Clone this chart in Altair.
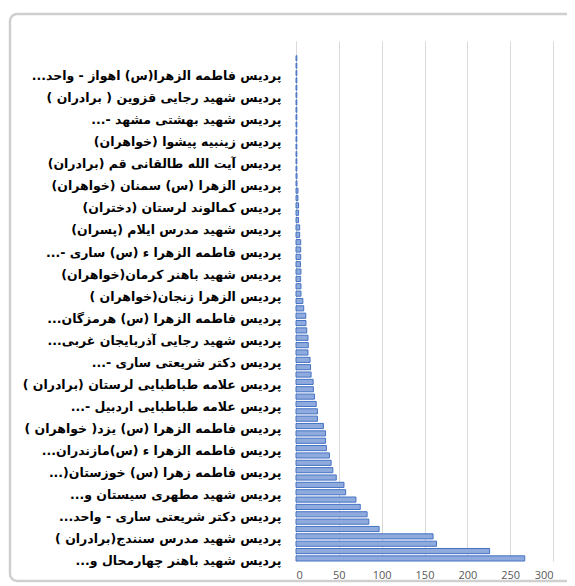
import json
import altair as alt
import pandas as pd

# values from bottom bar (index 0) to top bar (index 68)
values = [267, 226, 164, 160, 97, 85, 83, 75, 70, 58,
          56, 47, 43, 41, 39, 35.5, 34.5, 34.5, 32, 25,
          25, 23.6, 21.5, 20.3, 20, 17.6, 17, 16.4, 14, 14.3,
          14, 12.5, 11.6, 11.4, 9, 8, 5.8, 5.8, 5.4, 5.8,
          5.2, 5.5, 5.5, 5.5, 4.3, 4.3, 3, 3, 3, 2.3,
          2.3, 1.2, 1.2, 1, 1, 1, 1, 1, 1, 1,
          1, 1, 1, 1, 1, 1, 1, 1, 1]

# category labels shown on the axis (every third category, from the bottom)
label_idx = list(range(0, 67, 3))
label_text = [
    "پردیس شهید باهنر چهارمحال و...",
    "پردیس شهید مدرس سنندج(برادران )",
    "پردیس دکتر شریعتی ساری - واحد...",
    "پردیس شهید مطهری سیستان و...",
    "پردیس فاطمه زهرا (س) خوزستان(...",
    "پردیس فاطمه الزهرا ء (س)مازندران...",
    "پردیس فاطمه الزهرا (س) یزد( خواهران )",
    "پردیس علامه طباطبایی اردبیل -...",
    "پردیس علامه طباطبایی لرستان (برادران )",
    "پردیس دکتر شریعتی ساری -...",
    "پردیس شهید رجایی آذربایجان غربی...",
    "پردیس فاطمه الزهرا (س) هرمزگان...",
    "پردیس الزهرا زنجان(خواهران )",
    "پردیس شهید باهنر کرمان(خواهران)",
    "پردیس فاطمه الزهرا ء (س) ساری -...",
    "پردیس شهید مدرس ایلام (پسران)",
    "پردیس کمالوند لرستان (دختران)",
    "پردیس الزهرا (س) سمنان (خواهران)",
    "پردیس آیت الله طالقانی قم (برادران)",
    "پردیس زینبیه پیشوا (خواهران)",
    "پردیس شهید بهشتی مشهد -...",
    "پردیس شهید رجایی قزوین ( برادران )",
    "پردیس فاطمه الزهرا(س) اهواز - واحد...",
]
n_slots = 71  # two empty category slots at the top
x_ticks = [0, 50, 100, 150, 200, 250, 300]

names = [""] * n_slots
for i, t in zip(label_idx, label_text):
    names[i] = "\u200f" + t + "\u200f"

df = pd.DataFrame({"idx": list(range(len(values))), "value": values})

label_expr = json.dumps(names, ensure_ascii=False) + "[datum.value]"

bars = alt.Chart(df).mark_bar(
    fill="#8FAADC", stroke="#4472C4", strokeWidth=1
).encode(
    x=alt.X("value:Q",
            scale=alt.Scale(domain=[0, 300], nice=False),
            axis=alt.Axis(values=x_ticks, title=None, domain=False, ticks=False,
                          grid=True, gridColor="#D9D9D9", gridWidth=1,
                          labelColor="#595959", labelFont="Open Sans",
                          labelFontSize=11, labelPadding=8)),
    y=alt.Y("idx:O",
            scale=alt.Scale(domain=list(range(n_slots - 1, -1, -1)),
                            paddingInner=0.3, paddingOuter=0),
            axis=alt.Axis(values=label_idx, labelExpr=label_expr, title=None,
                          ticks=False, domain=True, domainColor="#D9D9D9",
                          labelFont="DejaVu Sans", labelFontWeight="bold",
                          labelFontSize=12.5, labelColor="#000000",
                          labelPadding=15, labelOffset=3, labelLimit=400)),
)

# decorative chart-object frame (Excel style)
frame = alt.Chart(pd.DataFrame({"f": [0]})).mark_rect(
    fill=None, stroke="#CFCFCF", strokeWidth=2.5, cornerRadius=7
).encode(
    x=alt.value(-286), x2=alt.value(300),
    y=alt.value(-27), y2=alt.value(540),
)

chart = alt.layer(frame, bars).properties(
    width=257, height=520,
    padding={"left": 288, "top": 33, "right": 14, "bottom": 22},
    autosize=alt.AutoSizeParams(type="none"),
).configure_view(stroke=None)

chart.save("out.html", embed_options={"renderer": "svg", "actions": False})
